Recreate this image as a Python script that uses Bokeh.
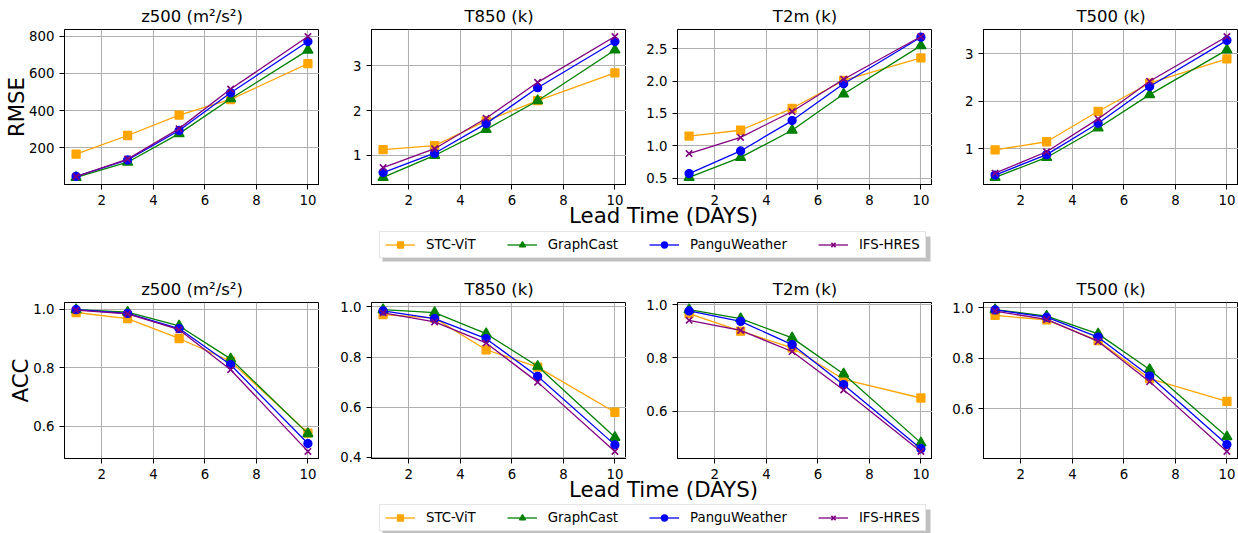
from bokeh.plotting import figure
from bokeh.layouts import row, column
from bokeh.models import (Range1d, FixedTicker, PrintfTickFormatter, Legend,
                          LegendItem, Label, BoxAnnotation)
from bokeh.embed import file_html
from bokeh.resources import INLINE

# ---- data -------------------------------------------------------------
lead_days = [1, 3, 5, 7, 10]
models = ["STC-ViT", "GraphCast", "PanguWeather", "IFS-HRES"]
variables = ["z500 (m²/s²)", "T850 (k)", "T2m (k)", "T500 (k)"]

# RMSE, one row per model (STC-ViT, GraphCast, PanguWeather, IFS-HRES)
rmse_z500 = [[166, 266, 376, 460, 653],
             [40, 122, 276, 464, 726],
             [46, 134, 293, 496, 772],
             [45, 139, 303, 516, 799]]
rmse_t850 = [[1.13, 1.22, 1.77, 2.22, 2.84],
             [0.51, 1.00, 1.58, 2.22, 3.35],
             [0.62, 1.05, 1.71, 2.51, 3.54],
             [0.73, 1.15, 1.83, 2.63, 3.65]]
rmse_t2m = [[1.15, 1.24, 1.58, 2.01, 2.36],
            [0.51, 0.82, 1.24, 1.80, 2.55],
            [0.57, 0.92, 1.39, 1.96, 2.68],
            [0.88, 1.13, 1.53, 2.03, 2.69]]
rmse_t500 = [[0.98, 1.15, 1.79, 2.38, 2.89],
             [0.40, 0.82, 1.44, 2.14, 3.08],
             [0.45, 0.88, 1.54, 2.31, 3.28],
             [0.49, 0.94, 1.63, 2.42, 3.36]]

# ACC, same model order
acc_z500 = [[0.989, 0.968, 0.900, 0.822, 0.576],
            [0.999, 0.990, 0.943, 0.830, 0.574],
            [0.999, 0.986, 0.934, 0.810, 0.540],
            [0.997, 0.984, 0.930, 0.793, 0.513]]
acc_t850 = [[0.969, 0.955, 0.829, 0.760, 0.580],
            [0.989, 0.977, 0.893, 0.763, 0.480],
            [0.984, 0.953, 0.873, 0.723, 0.450],
            [0.976, 0.940, 0.856, 0.700, 0.424]]
acc_t2m = [[0.966, 0.900, 0.838, 0.720, 0.650],
           [0.981, 0.947, 0.875, 0.740, 0.482],
           [0.976, 0.937, 0.850, 0.700, 0.460],
           [0.941, 0.903, 0.824, 0.680, 0.450]]
acc_t500 = [[0.970, 0.952, 0.870, 0.720, 0.630],
            [0.993, 0.967, 0.897, 0.756, 0.490],
            [0.992, 0.963, 0.884, 0.730, 0.459],
            [0.987, 0.954, 0.867, 0.708, 0.432]]

x_ticks = [2, 4, 6, 8, 10]
rmse_y_ticks = [[200, 400, 600, 800], [1, 2, 3], [0.5, 1.0, 1.5, 2.0, 2.5], [1, 2, 3]]
acc_y_ticks = [[0.6, 0.8, 1.0], [0.4, 0.6, 0.8, 1.0], [0.6, 0.8, 1.0], [0.6, 0.8, 1.0]]
rmse_formats = ["%d", "%d", "%.1f", "%d"]
acc_formats = ["%.1f", "%.1f", "%.1f", "%.1f"]

# ---- style ------------------------------------------------------------
FONT = "DejaVu Sans"
colors = ["orange", "green", "blue", "purple"]
markers = ["square", "triangle", "circle", "x"]
marker_sizes = [8, 10, 8, 9]
marker_lw = [1.3, 1.3, 1.3, 1.6]
LINE_W = 1.3

panel_widths = [319, 307, 306, 306]
panel_left = [64, 52, 51, 51]


def padded(values, frac=0.05):
    lo, hi = min(values), max(values)
    pad = (hi - lo) * frac
    return lo - pad, hi + pad


def make_panel(i, title, series, yticks, yfmt, ylabel, height):
    flat = [v for s in series for v in s]
    y0, y1 = padded(flat)
    x0, x1 = padded(lead_days)
    p = figure(width=panel_widths[i], height=height,
               x_range=Range1d(x0, x1), y_range=Range1d(y0, y1),
               toolbar_location=None, output_backend="svg",
               min_border_left=panel_left[i], min_border_right=0,
               min_border_top=29, min_border_bottom=26)
    p.title.text = title
    p.title.align = "center"
    p.title.text_font = FONT
    p.title.text_font_size = "16.5px"
    p.title.text_font_style = "normal"
    p.title.text_color = "black"
    p.title.standoff = 8

    p.outline_line_color = "black"
    p.outline_line_width = 1
    p.outline_line_alpha = 1

    p.xaxis.ticker = FixedTicker(ticks=x_ticks)
    p.yaxis.ticker = FixedTicker(ticks=yticks)
    p.xgrid.ticker = FixedTicker(ticks=x_ticks)
    p.ygrid.ticker = FixedTicker(ticks=yticks)
    p.yaxis.formatter = PrintfTickFormatter(format=yfmt)
    for ax in (p.xaxis[0], p.yaxis[0]):
        ax.major_tick_out = 5
        ax.major_tick_in = 0
        ax.minor_tick_line_color = None
        ax.major_tick_line_color = "black"
        ax.axis_line_color = "black"
        ax.major_label_text_font = FONT
        ax.major_label_text_font_size = "13.3px"
        ax.major_label_text_color = "black"
        ax.major_label_standoff = 5
    if ylabel:
        p.yaxis.axis_label = ylabel
        p.yaxis.axis_label_text_font = FONT
        p.yaxis.axis_label_text_font_size = "21.3px"
        p.yaxis.axis_label_text_font_style = "normal"
        p.yaxis.axis_label_text_color = "black"
        p.yaxis.axis_label_standoff = -3

    for g in (p.xgrid[0], p.ygrid[0]):
        g.grid_line_color = "#b0b0b0"
        g.grid_line_width = 1.07

    for k, vals in enumerate(series):
        p.line(lead_days, vals, line_color=colors[k], line_width=LINE_W)
        p.scatter(lead_days, vals, marker=markers[k], size=marker_sizes[k],
                  fill_color=colors[k], line_color=colors[k],
                  line_width=marker_lw[k])
    return p


def make_strip(height, label_y, legend_y):
    s = figure(width=1238, height=height,
               x_range=Range1d(0, 1238), y_range=Range1d(0, height),
               toolbar_location=None, output_backend="svg",
               x_axis_location=None, y_axis_location=None,
               min_border=0, outline_line_color=None,
               background_fill_color=None, border_fill_color=None,
               margin=(-6, 0, 0, 0))
    s.grid.visible = False
    s.add_layout(Label(x=663, y=label_y, text="Lead Time (DAYS)",
                       text_align="center", text_baseline="middle",
                       text_font=FONT, text_font_size="21.3px",
                       text_color="black"))
    # drop shadow under the legend box
    s.add_layout(BoxAnnotation(left=382, right=930, bottom=legend_y - 3,
                               top=legend_y + 22, fill_color="#8c8c8c",
                               fill_alpha=0.55, line_color=None))
    items = []
    nan = float("nan")
    for k, name in enumerate(models):
        # legend-only renderers: a single undefined point, nothing drawn
        rl = s.line([nan], [nan], line_color=colors[k], line_width=LINE_W)
        rm = s.scatter([nan], [nan], marker=markers[k], size=marker_sizes[k],
                       fill_color=colors[k], line_color=colors[k],
                       line_width=marker_lw[k])
        items.append(LegendItem(label=name, renderers=[rl, rm]))
    leg = Legend(items=items, orientation="horizontal", location=(379, legend_y),
                 border_line_color="#cccccc", border_line_width=1,
                 background_fill_color="white", background_fill_alpha=1,
                 padding=5, spacing=31, glyph_width=30, glyph_height=15,
                 label_height=15, label_standoff=11, margin=0,
                 label_text_font=FONT, label_text_font_size="13.3px",
                 label_text_color="black")
    s.add_layout(leg)
    return s


rmse_sets = [rmse_z500, rmse_t850, rmse_t2m, rmse_t500]
acc_sets = [acc_z500, acc_t850, acc_t2m, acc_t500]

top_row = [make_panel(i, variables[i], rmse_sets[i], rmse_y_ticks[i],
                      rmse_formats[i], "RMSE" if i == 0 else None, 210)
           for i in range(4)]
bottom_row = [make_panel(i, variables[i], acc_sets[i], acc_y_ticks[i],
                         acc_formats[i], "ACC" if i == 0 else None, 211)
              for i in range(4)]

strip1 = make_strip(69, 58, 15)
strip2 = make_strip(55, 44, 2)

layout = column(row(*top_row), strip1, row(*bottom_row), strip2)

with open("out.html", "w") as f:
    f.write(file_html(layout, INLINE))
